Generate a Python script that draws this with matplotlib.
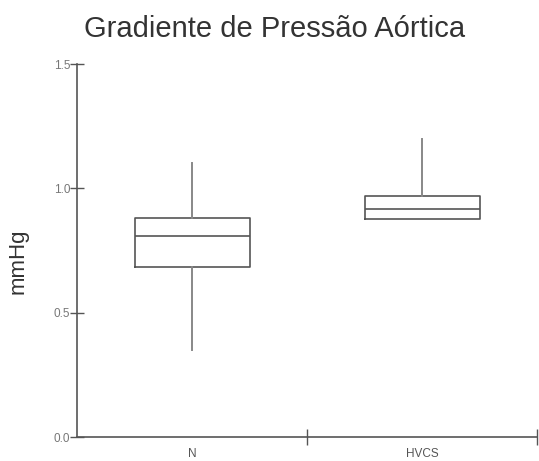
import matplotlib.pyplot as plt

# box stats
groups = ["N", "HVCS"]
whislo = [0.35, 0.878]
q1 = [0.685, 0.878]
med = [0.808, 0.917]
q3 = [0.879, 0.968]
whishi = [1.10, 1.20]

plt.rcParams['font.family'] = ['Liberation Sans', 'DejaVu Sans']

fig = plt.figure(figsize=(5.39, 4.61), dpi=100)
ax = fig.add_axes([77/539, 24/461, 460/539, 373/461])

stats = []
for i in range(len(groups)):
    stats.append({"label": groups[i], "whislo": whislo[i], "q1": q1[i], "med": med[i],
                  "q3": q3[i], "whishi": whishi[i], "fliers": []})

pos = [i + 0.5 for i in range(len(groups))]
ax.bxp(stats, positions=pos, widths=0.5, showcaps=False, showfliers=False,
       boxprops=dict(color="#555555", linewidth=1.2),
       medianprops=dict(color="#555555", linewidth=1.2),
       whiskerprops=dict(color="#888888", linewidth=1.4))

ax.set_xlim(0, len(groups))
ax.set_ylim(0, 1.5)
ax.set_yticks([0.0, 0.5, 1.0, 1.5])
ax.set_yticklabels(["0.0", "0.5", "1.0", "1.5"])
ax.set_xticks([1, 2])
ax.set_xticklabels([])
ax.set_xticks(pos, minor=True)
ax.set_xticklabels(groups, minor=True)

for s in ["top", "right"]:
    ax.spines[s].set_visible(False)
for s in ["left", "bottom"]:
    ax.spines[s].set_color("#555555")
    ax.spines[s].set_linewidth(1.2)

ax.tick_params(axis="y", direction="inout", length=10, width=1, color="#555555",
               labelsize=8.5, labelcolor="#777777", pad=0)
ax.tick_params(axis="x", which="major", direction="inout", length=11, width=1, color="#555555")
ax.tick_params(axis="x", which="minor", length=0, labelsize=8.5, labelcolor="#555555", pad=8)

ax.set_ylabel("mmHg", fontsize=16, color="#333333")
ax.yaxis.set_label_coords(-0.105, 0.47)
fig.text(275/539, 1 - 37/461, "Gradiente de Pressão Aórtica", ha="center", va="baseline",
         fontsize=21, color="#333333")

fig.savefig("out.png", dpi=100)
